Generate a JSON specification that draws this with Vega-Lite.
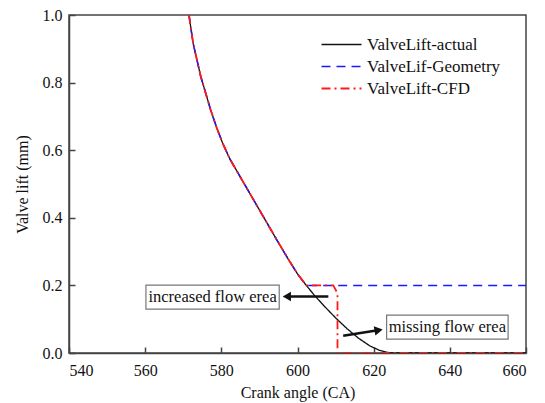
{
  "$schema": "https://vega.github.io/schema/vega-lite/v6.json",
  "width": 457,
  "height": 338,
  "autosize": "none",
  "padding": {"left": 69, "top": 15, "right": 19, "bottom": 50},
  "background": "white",
  "config": {
    "view": {"stroke": "#444", "strokeWidth": 1.5},
    "font": "Liberation Serif",
    "axis": {
      "grid": false,
      "domainColor": "#444",
      "domainWidth": 1.5,
      "tickColor": "#444",
      "tickWidth": 1.5,
      "tickSize": -6,
      "labelFont": "Liberation Serif",
      "labelFontSize": 16,
      "labelColor": "#111",
      "titleFont": "Liberation Serif",
      "titleFontSize": 16,
      "titleFontWeight": "normal",
      "titleColor": "#111"
    }
  },
  "datasets": {
    "curves": [
      {"series": "ValveLift-actual", "i": 1, "x": 571.5, "y": 1.0},
      {"series": "ValveLift-actual", "i": 2, "x": 572.6, "y": 0.916},
      {"series": "ValveLift-actual", "i": 3, "x": 574.6, "y": 0.818},
      {"series": "ValveLift-actual", "i": 4, "x": 577.2, "y": 0.719},
      {"series": "ValveLift-actual", "i": 5, "x": 578.8, "y": 0.666},
      {"series": "ValveLift-actual", "i": 6, "x": 580.3, "y": 0.622},
      {"series": "ValveLift-actual", "i": 7, "x": 582.2, "y": 0.575},
      {"series": "ValveLift-actual", "i": 8, "x": 584.4, "y": 0.532},
      {"series": "ValveLift-actual", "i": 9, "x": 589.5, "y": 0.433},
      {"series": "ValveLift-actual", "i": 10, "x": 594.6, "y": 0.334},
      {"series": "ValveLift-actual", "i": 11, "x": 597.5, "y": 0.279},
      {"series": "ValveLift-actual", "i": 12, "x": 600.0, "y": 0.234},
      {"series": "ValveLift-actual", "i": 13, "x": 602.3, "y": 0.2},
      {"series": "ValveLift-actual", "i": 14, "x": 604.5, "y": 0.17},
      {"series": "ValveLift-actual", "i": 15, "x": 607.0, "y": 0.139},
      {"series": "ValveLift-actual", "i": 16, "x": 610.0, "y": 0.104},
      {"series": "ValveLift-actual", "i": 17, "x": 613.0, "y": 0.072},
      {"series": "ValveLift-actual", "i": 18, "x": 616.0, "y": 0.044},
      {"series": "ValveLift-actual", "i": 19, "x": 619.0, "y": 0.021},
      {"series": "ValveLift-actual", "i": 20, "x": 621.5, "y": 0.008},
      {"series": "ValveLift-actual", "i": 21, "x": 623.5, "y": 0.002},
      {"series": "ValveLift-actual", "i": 22, "x": 625.0, "y": 0},
      {"series": "ValveLift-actual", "i": 23, "x": 660, "y": 0},
      {"series": "ValveLif-Geometry", "i": 1, "x": 571.5, "y": 1.0},
      {"series": "ValveLif-Geometry", "i": 2, "x": 572.6, "y": 0.916},
      {"series": "ValveLif-Geometry", "i": 3, "x": 574.6, "y": 0.818},
      {"series": "ValveLif-Geometry", "i": 4, "x": 577.2, "y": 0.719},
      {"series": "ValveLif-Geometry", "i": 5, "x": 578.8, "y": 0.666},
      {"series": "ValveLif-Geometry", "i": 6, "x": 580.3, "y": 0.622},
      {"series": "ValveLif-Geometry", "i": 7, "x": 582.2, "y": 0.575},
      {"series": "ValveLif-Geometry", "i": 8, "x": 584.4, "y": 0.532},
      {"series": "ValveLif-Geometry", "i": 9, "x": 589.5, "y": 0.433},
      {"series": "ValveLif-Geometry", "i": 10, "x": 594.6, "y": 0.334},
      {"series": "ValveLif-Geometry", "i": 11, "x": 597.5, "y": 0.279},
      {"series": "ValveLif-Geometry", "i": 12, "x": 600.0, "y": 0.234},
      {"series": "ValveLif-Geometry", "i": 13, "x": 602.3, "y": 0.2},
      {"series": "ValveLif-Geometry", "i": 14, "x": 660, "y": 0.2},
      {"series": "ValveLift-CFD", "i": 1, "x": 571.5, "y": 1.0},
      {"series": "ValveLift-CFD", "i": 2, "x": 572.6, "y": 0.916},
      {"series": "ValveLift-CFD", "i": 3, "x": 574.6, "y": 0.818},
      {"series": "ValveLift-CFD", "i": 4, "x": 577.2, "y": 0.719},
      {"series": "ValveLift-CFD", "i": 5, "x": 578.8, "y": 0.666},
      {"series": "ValveLift-CFD", "i": 6, "x": 580.3, "y": 0.622},
      {"series": "ValveLift-CFD", "i": 7, "x": 582.2, "y": 0.575},
      {"series": "ValveLift-CFD", "i": 8, "x": 584.4, "y": 0.532},
      {"series": "ValveLift-CFD", "i": 9, "x": 589.5, "y": 0.433},
      {"series": "ValveLift-CFD", "i": 10, "x": 594.6, "y": 0.334},
      {"series": "ValveLift-CFD", "i": 11, "x": 597.5, "y": 0.279},
      {"series": "ValveLift-CFD", "i": 12, "x": 600.0, "y": 0.234},
      {"series": "ValveLift-CFD", "i": 13, "x": 602.3, "y": 0.2},
      {"series": "ValveLift-CFD", "i": 14, "x": 609.4, "y": 0.2},
      {"series": "ValveLift-CFD", "i": 15, "x": 610.5, "y": 0.177},
      {"series": "ValveLift-CFD", "i": 16, "x": 610.5, "y": 0},
      {"series": "ValveLift-CFD", "i": 17, "x": 660, "y": 0}
    ],
    "boxes": [
      {"label": "increased flow erea", "x1": 560.2, "x2": 595.2, "y1": 0.13, "y2": 0.201, "xc": 577.7, "yc": 0.166},
      {"label": "missing flow erea", "x1": 623.4, "x2": 655.3, "y1": 0.041, "y2": 0.112, "xc": 639.35, "yc": 0.077}
    ],
    "arrows": [
      {"x1": 608.1, "y1": 0.167, "x2": 597, "y2": 0.167},
      {"x1": 612, "y1": 0.051, "x2": 621.5, "y2": 0.068}
    ],
    "heads": [
      {"x": 597.2, "y": 0.167, "shape": "triangle-left", "angle": 0},
      {"x": 621.3, "y": 0.0675, "shape": "triangle-right", "angle": 350}
    ]
  },
  "layer": [
    {
      "data": {"name": "curves"},
      "mark": {"type": "line", "clip": true},
      "encoding": {
        "x": {"field": "x", "type": "quantitative", "scale": {"domain": [540, 660], "nice": false, "zero": false},
              "axis": {"values": [540, 560, 580, 600, 620, 640, 660], "title": "Crank angle (CA)", "titlePadding": 6, "labelPadding": 15}},
        "y": {"field": "y", "type": "quantitative", "scale": {"domain": [0, 1], "nice": false},
              "axis": {"values": [0, 0.2, 0.4, 0.6, 0.8, 1.0], "format": ".1f", "title": "Valve lift (mm)", "titlePadding": 12, "labelPadding": 13}},
        "order": {"field": "i", "type": "quantitative"},
        "color": {
          "field": "series", "type": "nominal",
          "scale": {"domain": ["ValveLift-actual", "ValveLif-Geometry", "ValveLift-CFD"], "range": ["#111111", "#1a1aff", "#ff1a1a"]},
          "legend": {
            "title": null, "orient": "none", "legendX": 249, "legendY": 21,
            "symbolType": "M-1,0H7", "symbolSize": 100, "symbolStrokeWidth": 1.8,
            "labelFont": "Liberation Serif", "labelFontSize": 17, "labelColor": "#111",
            "labelOffset": 32, "rowPadding": 4, "padding": 0
          }
        },
        "strokeDash": {
          "field": "series", "type": "nominal",
          "scale": {"domain": ["ValveLift-actual", "ValveLif-Geometry", "ValveLift-CFD"], "range": [[1, 0], [9, 6], [9, 4, 2, 4]]},
          "legend": {
            "title": null, "orient": "none", "legendX": 249, "legendY": 21,
            "symbolType": "M-1,0H7", "symbolSize": 100, "symbolStrokeWidth": 1.8,
            "labelFont": "Liberation Serif", "labelFontSize": 17, "labelColor": "#111",
            "labelOffset": 32, "rowPadding": 4, "padding": 0
          }
        },
        "strokeWidth": {
          "field": "series", "type": "nominal",
          "scale": {"domain": ["ValveLift-actual", "ValveLif-Geometry", "ValveLift-CFD"], "range": [1.3, 1.8, 1.8]},
          "legend": null
        }
      }
    },
    {
      "data": {"name": "arrows"},
      "mark": {"type": "rule", "color": "#111", "strokeWidth": 2.5},
      "encoding": {
        "x": {"field": "x1", "type": "quantitative"},
        "y": {"field": "y1", "type": "quantitative"},
        "x2": {"field": "x2"},
        "y2": {"field": "y2"}
      }
    },
    {
      "data": {"name": "heads"},
      "mark": {"type": "point", "filled": true, "color": "#111", "size": 90, "opacity": 1},
      "encoding": {
        "x": {"field": "x", "type": "quantitative"},
        "y": {"field": "y", "type": "quantitative"},
        "shape": {"field": "shape", "type": "nominal", "scale": null, "legend": null},
        "angle": {"field": "angle", "type": "quantitative", "scale": null}
      }
    },
    {
      "data": {"name": "boxes"},
      "mark": {"type": "rect", "fill": "white", "stroke": "#777", "strokeWidth": 1.2},
      "encoding": {
        "x": {"field": "x1", "type": "quantitative"},
        "x2": {"field": "x2"},
        "y": {"field": "y1", "type": "quantitative"},
        "y2": {"field": "y2"}
      }
    },
    {
      "data": {"name": "boxes"},
      "mark": {"type": "text", "font": "Liberation Serif", "fontSize": 16.5, "color": "#111", "align": "center", "baseline": "middle"},
      "encoding": {
        "x": {"field": "xc", "type": "quantitative"},
        "y": {"field": "yc", "type": "quantitative"},
        "text": {"field": "label"}
      }
    }
  ]
}
